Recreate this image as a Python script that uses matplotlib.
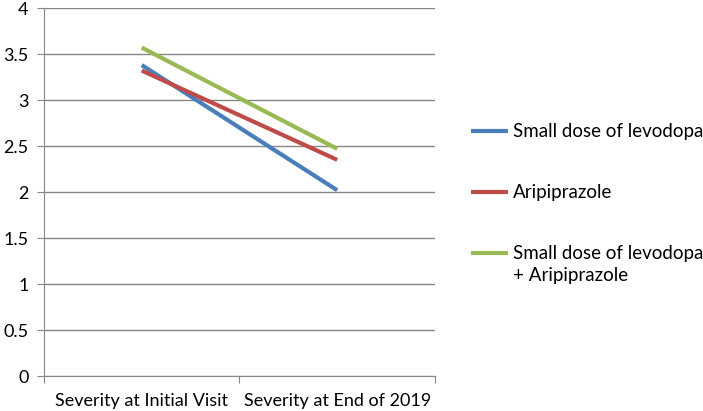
import matplotlib
matplotlib.use("Agg")
import matplotlib.pyplot as plt

categories = ["Severity at Initial Visit", "Severity at End of 2019"]
levodopa = [3.38, 2.02]
aripiprazole = [3.32, 2.35]
combined = [3.57, 2.47]
series_labels = ["Small dose of levodopa", "Aripiprazole", "Small dose of levodopa\n+ Aripiprazole"]
colors = ["#4A7EBB", "#BE4B48", "#98B954"]

plt.rcParams['font.family'] = ['Lato', 'DejaVu Sans']

fig = plt.figure(figsize=(7.03, 4.11), dpi=100)
ax = fig.add_axes([0.0626, 0.085, 0.556, 0.8955])

x = list(range(len(categories)))
for vals, lab, col in zip([levodopa, aripiprazole, combined], series_labels, colors):
    ax.plot(x, vals, color=col, lw=3, label=lab, solid_capstyle='butt')

ax.set_xlim(-0.5, 1.5)
ax.set_ylim(0, 4)
ax.set_yticks([0, 0.5, 1, 1.5, 2, 2.5, 3, 3.5, 4])
ax.set_yticklabels(["0", "0.5", "1", "1.5", "2", "2.5", "3", "3.5", "4"], fontsize=13)
ax.yaxis.grid(True, color="#868686", lw=1)
ax.set_axisbelow(True)
ax.tick_params(axis='y', length=5, color="#868686", pad=6)

ax.set_xticks([-0.5, 0.5, 1.5])
ax.set_xticklabels([])
ax.set_xticks(x, minor=True)
ax.set_xticklabels(categories, minor=True, fontsize=13)
ax.tick_params(axis='x', which='major', length=5, color="#868686")
ax.tick_params(axis='x', which='minor', length=0, pad=12)

for side in ['top', 'right']:
    ax.spines[side].set_visible(False)
for side in ['left', 'bottom']:
    ax.spines[side].set_color("#868686")

leg = ax.legend(loc='upper left', bbox_to_anchor=(1.048, 0.733), frameon=False,
                fontsize=13.5, handlelength=2.0, handletextpad=0.27, labelspacing=2.35)
leg.get_texts()[2].set_linespacing(1.35)
# Excel puts the handle of a wrapped entry next to its first line
h = leg.legend_handles[2]
h.set_ydata([y + 9 for y in h.get_ydata()])

fig.savefig("out.png", dpi=100)
